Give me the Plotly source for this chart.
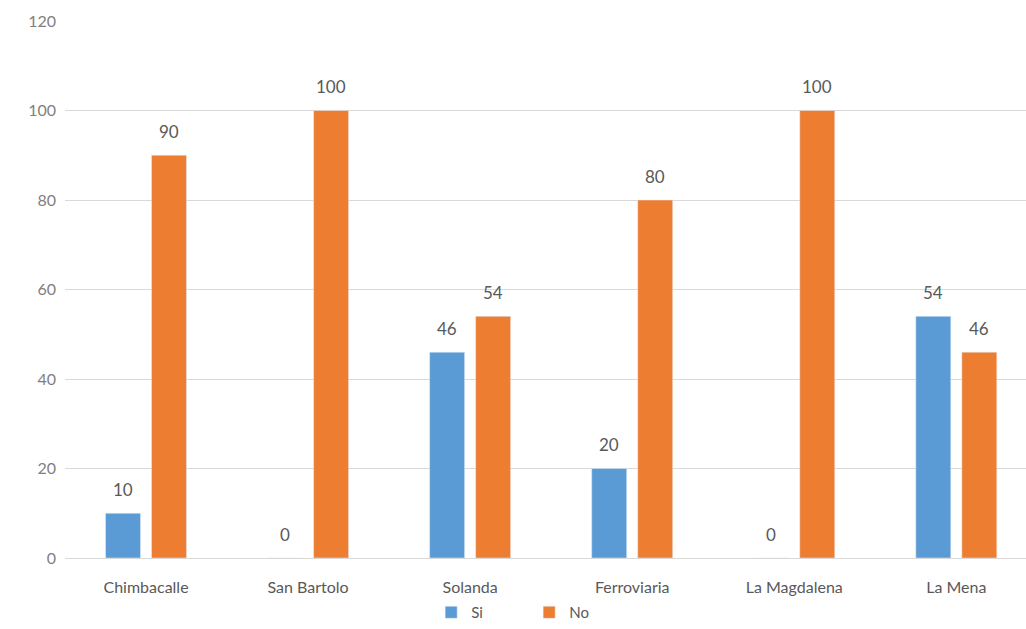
import plotly.graph_objects as go

categories = ["Chimbacalle", "San Bartolo", "Solanda", "Ferroviaria", "La Magdalena", "La Mena"]
si_values = [10, 0, 46, 20, 0, 54]
no_values = [90, 100, 54, 80, 100, 46]
y_ticks = [0, 20, 40, 60, 80, 100, 120]

font_family = "Lato, 'Open Sans', 'Liberation Sans', sans-serif"
label_color = "#595959"
tick_color = "#7F7F7F"

fig = go.Figure()
fig.add_trace(go.Bar(x=categories, y=si_values, name="Si", marker=dict(color="#5B9BD5")))
fig.add_trace(go.Bar(x=categories, y=no_values, name="No", marker=dict(color="#ED7D31")))

annotations = []
for cat, v in zip(categories, si_values):
    annotations.append(dict(x=cat, y=v, xref="x", yref="y", text=str(v), showarrow=False,
                            xshift=-23, yshift=24, font=dict(size=17, color=label_color)))
for cat, v in zip(categories, no_values):
    annotations.append(dict(x=cat, y=v, xref="x", yref="y", text=str(v), showarrow=False,
                            xshift=23, yshift=24, font=dict(size=17, color=label_color)))

fig.update_layout(
    width=1026, height=629,
    margin=dict(l=65, r=0, t=21, b=68),
    paper_bgcolor="white", plot_bgcolor="white",
    barmode="group", bargap=0.432, bargroupgap=0.24,
    font=dict(family=font_family, size=15, color=tick_color),
    annotations=annotations,
    showlegend=True,
    legend=dict(orientation="h", x=0.483, xanchor="center", y=-0.102, yanchor="middle",
                font=dict(size=15, color=label_color), entrywidth=53,
                traceorder="normal"),
    xaxis=dict(range=[-0.5, 5.43], showgrid=False, showline=False, ticks="",
               ticklabelstandoff=18,
               tickfont=dict(size=16, color=label_color)),
    yaxis=dict(range=[0, 120], tickvals=y_ticks, showgrid=True, gridcolor="#D9D9D9",
               gridwidth=1, zeroline=True, zerolinecolor="#D9D9D9", zerolinewidth=1,
               ticks="", ticklabelstandoff=8,
               tickfont=dict(size=16, color=tick_color)),
)

fig.write_html("out.html")
